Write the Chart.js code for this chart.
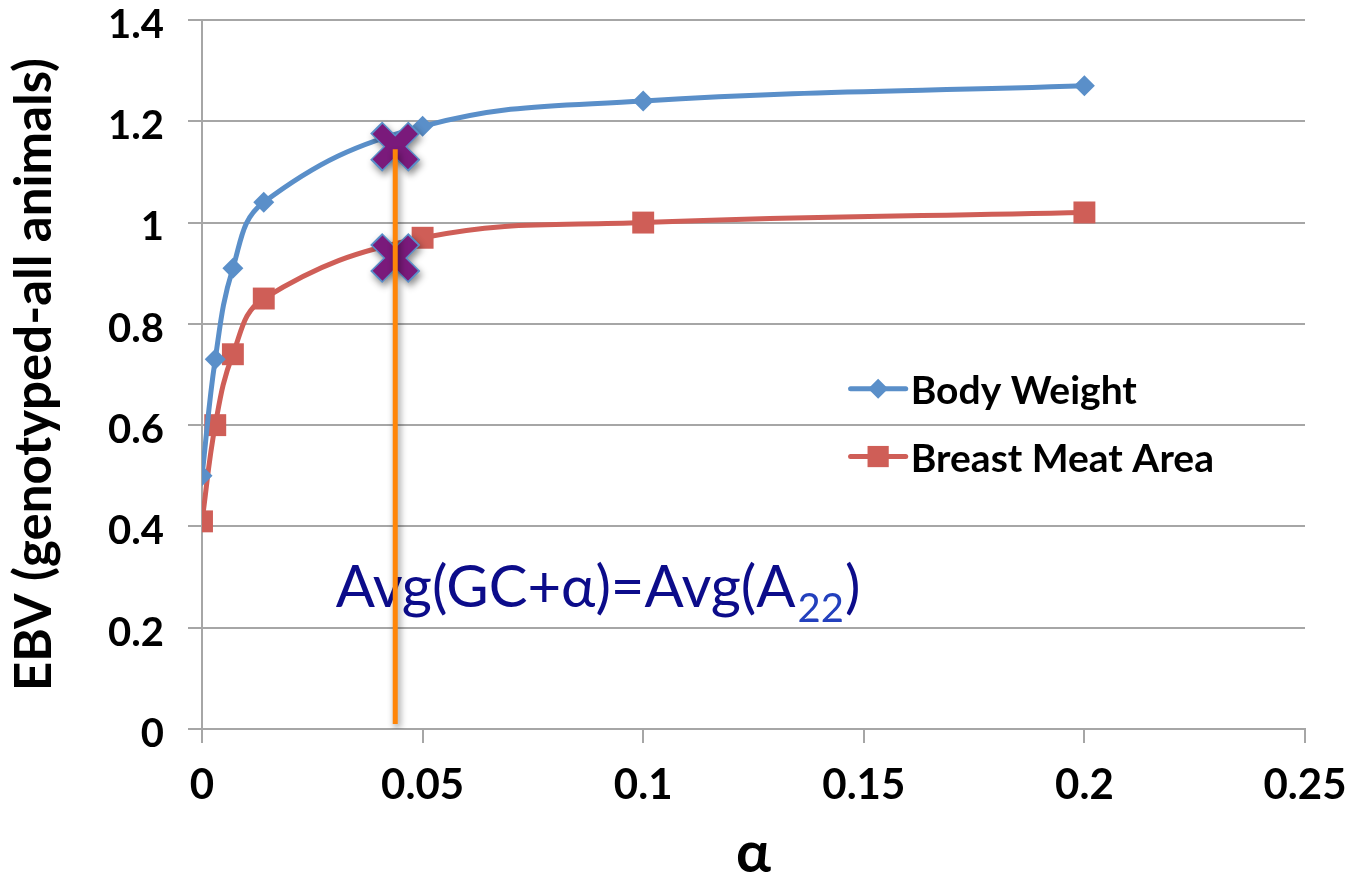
<!DOCTYPE html>
<html>
<head>
<meta charset="utf-8">
<script src="https://cdn.jsdelivr.net/npm/chart.js@4"></script>
<style>
  html, body { margin: 0; padding: 0; background: #fff; }
  #wrap { width: 1348px; height: 874px; }
</style>
</head>
<body>
<div id="wrap"><canvas id="chart" width="1348" height="874"></canvas></div>
<script>
// values
const alphaValues = [0, 0.003, 0.007, 0.014, 0.05, 0.1, 0.2];
const bodyWeight = [0.5, 0.73, 0.91, 1.04, 1.19, 1.24, 1.27];
const breastMeatArea = [0.41, 0.6, 0.74, 0.85, 0.97, 1.0, 1.02];
const crossAlpha = [0.0438, 0.0438];
const crossValues = [1.15, 0.93];
const guideAlpha = [0.0438, 0.0438];
const guideValues = [0.01, 1.145];
const xTickLabels = ['0', '0.05', '0.1', '0.15', '0.2', '0.25'];
const yTickLabels = ['0', '0.2', '0.4', '0.6', '0.8', '1', '1.2', '1.4'];
const seriesNames = ['Body Weight', 'Breast Meat Area'];
const annotationMain = 'Avg(GC+α)=Avg(A';
const annotationSub = '22';
const annotationEnd = ')';

const BLUE = '#5a8fc9';
const RED = '#cf5e57';
const PURPLE = '#7a1a7b';
const GRID = '#a6a6a6';
const FONT = 'Lato';

const toPoints = (xs, ys) => xs.map((x, i) => ({ x: x, y: ys[i] }));

// text annotation, drawn under the datasets
const annotation = {
  id: 'annotation',
  beforeDatasetsDraw(chart) {
    const { ctx, scales } = chart;
    const x = scales.x.getPixelForValue(0.0303);
    const y = scales.y.getPixelForValue(0.241);
    ctx.save();
    ctx.textBaseline = 'alphabetic';
    ctx.textAlign = 'left';
    ctx.font = `58px ${FONT}`;
    ctx.fillStyle = '#0c0c8a';
    ctx.fillText(annotationMain, x, y);
    let w = ctx.measureText(annotationMain).width;
    ctx.font = `40px ${FONT}`;
    ctx.fillStyle = '#2340bd';
    ctx.fillText(annotationSub, x + w + 2, y + 15);
    w += 2 + ctx.measureText(annotationSub).width;
    ctx.font = `58px ${FONT}`;
    ctx.fillStyle = '#0c0c8a';
    ctx.fillText(annotationEnd, x + w + 1, y);
    ctx.restore();
  }
};

// soft shadow under the cross markers and the guide line
const shadows = {
  id: 'shadows',
  beforeDatasetDraw(chart, args) {
    const label = args.meta.label;
    if (label !== 'cross outline' && label !== 'guide') return;
    const ctx = chart.ctx;
    ctx.save();
    ctx.shadowColor = 'rgba(0,0,0,0.45)';
    ctx.shadowBlur = 7;
    ctx.shadowOffsetX = 2;
    ctx.shadowOffsetY = 4;
  },
  afterDatasetDraw(chart, args) {
    const label = args.meta.label;
    if (label !== 'cross outline' && label !== 'guide') return;
    chart.ctx.restore();
  }
};

// legend inside the plot area
const insideLegend = {
  id: 'insideLegend',
  afterDraw(chart) {
    const { ctx, scales } = chart;
    const x0 = scales.x.getPixelForValue(0.147);
    const x1 = scales.x.getPixelForValue(0.1595);
    const rows = [
      { name: seriesNames[0], color: BLUE, style: 'rectRot', r: 10, y: scales.y.getPixelForValue(0.672) },
      { name: seriesNames[1], color: RED, style: 'rect', r: 15, y: scales.y.getPixelForValue(0.538) }
    ];
    ctx.save();
    rows.forEach(row => {
      ctx.strokeStyle = row.color;
      ctx.fillStyle = row.color;
      ctx.lineWidth = 5;
      ctx.lineCap = 'round';
      ctx.beginPath();
      ctx.moveTo(x0, row.y);
      ctx.lineTo(x1, row.y);
      ctx.stroke();
      Chart.helpers.drawPoint(ctx, { pointStyle: row.style, radius: row.r, rotation: 0, borderWidth: 0 }, (x0 + x1) / 2, row.y);
      ctx.fillStyle = '#000';
      ctx.font = `bold 39px ${FONT}`;
      ctx.textBaseline = 'middle';
      ctx.textAlign = 'left';
      ctx.fillText(row.name, x1 + 5, row.y + 3);
    });
    ctx.restore();
  }
};

new Chart(document.getElementById('chart'), {
  type: 'scatter',
  data: {
    datasets: [
      {
        label: 'guide',
        data: toPoints(guideAlpha, guideValues),
        showLine: true,
        borderColor: '#ff8508',
        borderWidth: 5,
        pointRadius: 0,
        order: 0
      },
      {
        label: 'cross',
        data: toPoints(crossAlpha, crossValues),
        pointStyle: 'crossRot',
        pointRadius: 25,
        borderColor: PURPLE,
        borderWidth: 14,
        order: 1
      },
      {
        label: 'cross outline',
        data: toPoints(crossAlpha, crossValues),
        pointStyle: 'crossRot',
        pointRadius: 27,
        borderColor: BLUE,
        borderWidth: 17,
        order: 2
      },
      {
        label: seriesNames[0],
        data: toPoints(alphaValues, bodyWeight),
        showLine: true,
        tension: 0.4,
        borderColor: BLUE,
        backgroundColor: BLUE,
        borderWidth: 5,
        pointStyle: 'rectRot',
        pointRadius: 10.5,
        pointBorderWidth: 0,
        order: 3
      },
      {
        label: seriesNames[1],
        data: toPoints(alphaValues, breastMeatArea),
        showLine: true,
        tension: 0.4,
        borderColor: RED,
        backgroundColor: RED,
        borderWidth: 5,
        pointStyle: 'rect',
        pointRadius: 15.5,
        pointBorderWidth: 0,
        order: 4
      }
    ]
  },
  options: {
    responsive: false,
    animation: false,
    devicePixelRatio: 1,
    layout: { autoPadding: false, padding: { top: 20, right: 43, left: 0, bottom: 0 } },
    plugins: {
      legend: { display: false },
      tooltip: { enabled: false }
    },
    scales: {
      x: {
        type: 'linear',
        min: 0,
        max: 0.25,
        afterFit: s => { s.height = 145; s.paddingLeft = 0; s.paddingRight = 0; },
        afterBuildTicks: s => { s.ticks = xTickLabels.map(t => ({ value: parseFloat(t) })); },
        ticks: {
          callback: (v, i) => xTickLabels[i],
          font: { family: FONT, weight: 'bold', size: 42 },
          color: '#000',
          padding: 17,
          maxRotation: 0
        },
        grid: { drawOnChartArea: false, color: GRID, lineWidth: 2, tickLength: 14 },
        border: { color: GRID, width: 2 },
        title: {
          display: true,
          text: 'α',
          font: { family: FONT, weight: 'bold', size: 58, lineHeight: 0.7 },
          color: '#000',
          padding: { top: 0, bottom: 0 }
        }
      },
      y: {
        type: 'linear',
        min: 0,
        max: 1.4,
        afterFit: s => { s.width = 202; s.paddingTop = 0; s.paddingBottom = 0; },
        afterBuildTicks: s => { s.ticks = yTickLabels.map(t => ({ value: parseFloat(t) })); },
        ticks: {
          callback: (v, i) => yTickLabels[i],
          font: { family: FONT, weight: 'bold', size: 40 },
          color: '#000',
          padding: 24,
          labelOffset: 5
        },
        grid: { color: GRID, lineWidth: 2, tickLength: 14 },
        border: { color: GRID, width: 2 },
        title: {
          display: true,
          text: 'EBV (genotyped-all animals)',
          font: { family: FONT, weight: 'bold', size: 51 },
          color: '#000',
          padding: { top: 4, bottom: 0 }
        }
      }
    }
  },
  plugins: [annotation, shadows, insideLegend]
});
</script>
</body>
</html>
